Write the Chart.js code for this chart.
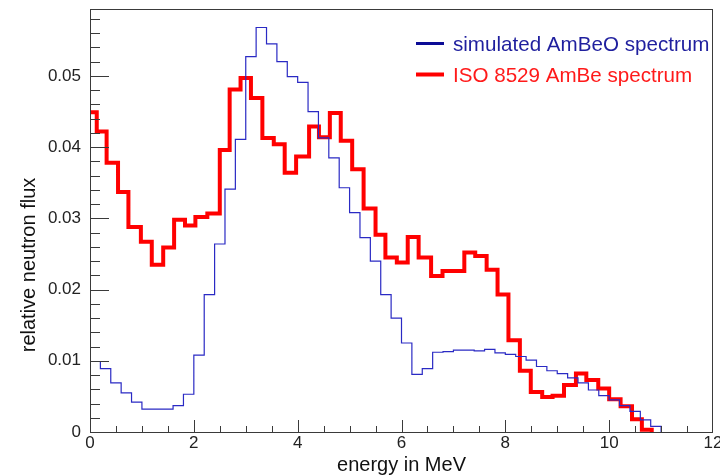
<!DOCTYPE html>
<html>
<head>
<meta charset="utf-8">
<title>AmBe neutron spectrum</title>
<script src="https://cdn.jsdelivr.net/npm/chart.js@4.4.0/dist/chart.umd.min.js"></script>
<style>
  html, body { margin: 0; padding: 0; background: #fff; }
  canvas { display: block; }
</style>
</head>
<body>
<canvas id="spectrumChart" width="720" height="476"></canvas>
<script>
// Simulated AmBeO spectrum: bin edges (MeV) and relative flux per bin
const simEdges = [0, 0.2, 0.4, 0.6, 0.8, 1.0, 1.2, 1.4, 1.6, 1.8, 2.0, 2.2, 2.4, 2.6, 2.8, 3.0,
  3.2, 3.4, 3.6, 3.8, 4.0, 4.2, 4.4, 4.6, 4.8, 5.0, 5.2, 5.4, 5.6, 5.8, 6.0, 6.2, 6.4, 6.6,
  6.8, 7.0, 7.2, 7.4, 7.6, 7.8, 8.0, 8.2, 8.4, 8.6, 8.8, 9.0, 9.2, 9.4, 9.6, 9.8, 10.0, 10.2,
  10.4, 10.6, 10.8, 11.0];
const simValues = [0.0099, 0.0089, 0.0069, 0.0055, 0.0042, 0.0032, 0.0032, 0.0032, 0.0037, 0.0053,
  0.0108, 0.0193, 0.0264, 0.0341, 0.0411, 0.0527, 0.0568, 0.0545, 0.0520, 0.0499,
  0.0491, 0.0450, 0.0413, 0.0385, 0.0343, 0.0308, 0.0273, 0.0240, 0.0193, 0.0160,
  0.0125, 0.0081, 0.0089, 0.0112, 0.0113, 0.0115, 0.0115, 0.0114, 0.0116, 0.0111,
  0.0109, 0.0106, 0.0101, 0.0092, 0.0086, 0.0082, 0.0076, 0.0069, 0.0059, 0.0051,
  0.0045, 0.0037, 0.0029, 0.0017, 0.0008];

// ISO 8529 AmBe spectrum: bin edges (MeV) and relative flux per bin
const isoEdges = [0, 0.13, 0.32, 0.54, 0.74, 0.98, 1.19, 1.41, 1.62, 1.83, 2.03, 2.26, 2.5, 2.69,
  2.9, 3.1, 3.32, 3.54, 3.75, 3.97, 4.22, 4.41, 4.62, 4.83, 5.05, 5.27, 5.5, 5.69, 5.91, 6.12,
  6.33, 6.57, 6.79, 7.0, 7.21, 7.42, 7.64, 7.85, 8.06, 8.28, 8.49, 8.71, 8.91, 9.13, 9.36,
  9.56, 9.79, 10.0, 10.22, 10.44, 10.63, 10.82];
const isoValues = [0.0449, 0.0422, 0.0378, 0.0337, 0.0288, 0.0267, 0.0235, 0.0259, 0.0298, 0.0290,
  0.0302, 0.0307, 0.0396, 0.0481, 0.0497, 0.0469, 0.0413, 0.0404, 0.0364, 0.0387,
  0.0429, 0.0414, 0.0448, 0.0409, 0.0369, 0.0314, 0.0277, 0.0245, 0.0238, 0.0274,
  0.0245, 0.0219, 0.0226, 0.0226, 0.0252, 0.0247, 0.0228, 0.0193, 0.0129, 0.0086,
  0.0056, 0.0049, 0.0051, 0.0066, 0.0082, 0.0073, 0.0061, 0.0046, 0.0036, 0.0018, 0.0003];

// Axis ticks
const xTickValues = [0, 2, 4, 6, 8, 10, 12];
const yTickValues = [0, 0.01, 0.02, 0.03, 0.04, 0.05];
const yTickLabels = ['0', '0.01', '0.02', '0.03', '0.04', '0.05'];

const FONT = '"Liberation Sans", Arial, Helvetica, sans-serif';
Chart.defaults.font.family = FONT;

// Histogram -> step points (left edge of every bin, closing at the last edge)
function toSteps(edges, values) {
  const pts = values.map((v, i) => ({ x: edges[i], y: v }));
  pts.push({ x: edges[edges.length - 1], y: 0 });
  return pts;
}

// keep the plot box fixed: no extra room for overhanging tick labels
function fixBox(s, size) {
  if (s.isHorizontal()) s.height = size; else s.width = size;
  s.paddingTop = s.paddingBottom = s.paddingLeft = s.paddingRight = 0;
}

// Frame box plus ROOT-like ticks pointing into the plot
const frameTicks = {
  id: 'frameTicks',
  afterDatasetsDraw(chart) {
    const { ctx, chartArea: a, scales: { x, y } } = chart;
    ctx.save();
    ctx.strokeStyle = '#3a3a3a';
    ctx.lineWidth = 1;
    ctx.strokeRect(a.left + 0.5, a.top + 0.5, a.right - a.left - 1, a.bottom - a.top);
    ctx.beginPath();
    for (let i = 1; i < 24; i++) {
      const px = Math.round(x.getPixelForValue(i * 0.5)) + 0.5;
      const len = i % 4 === 0 ? 12 : 6;
      ctx.moveTo(px, a.bottom);
      ctx.lineTo(px, a.bottom - len);
    }
    for (let i = 1; i < 30; i++) {
      const py = Math.round(y.getPixelForValue(i * 0.002)) + 0.5;
      if (py < a.top) continue;
      const len = i % 5 === 0 ? 19 : 10;
      ctx.moveTo(a.left, py);
      ctx.lineTo(a.left + len, py);
    }
    ctx.stroke();
    ctx.restore();
  }
};

// Legend inside the plot (top right) and the axis titles
const labels = {
  id: 'labels',
  afterDraw(chart) {
    const { ctx, chartArea: a } = chart;
    ctx.save();
    const rows = [43.5, 74.5];
    chart.data.datasets.forEach((ds, i) => {
      ctx.strokeStyle = ds.legendColor;
      ctx.lineWidth = ds.legendWidth;
      ctx.beginPath();
      ctx.moveTo(416, rows[i]);
      ctx.lineTo(444, rows[i]);
      ctx.stroke();
      ctx.fillStyle = ds.textColor;
      ctx.font = '20.6px ' + FONT;
      ctx.textAlign = 'left';
      ctx.textBaseline = 'alphabetic';
      ctx.fillText(ds.label, 453, rows[i] + 7.5);
    });

    ctx.fillStyle = '#111';
    ctx.font = '20px ' + FONT;
    ctx.textAlign = 'center';
    ctx.textBaseline = 'alphabetic';
    ctx.fillText('energy in MeV', (a.left + a.right) / 2, 471);

    ctx.translate(35, 265);
    ctx.rotate(-Math.PI / 2);
    ctx.fillText('relative neutron flux', 0, 0);
    ctx.restore();
  }
};

function createSpectrumChart() {
  const ctx = document.getElementById('spectrumChart').getContext('2d');
  new Chart(ctx, {
    type: 'line',
    data: {
      datasets: [
        {
          label: 'simulated AmBeO spectrum',
          data: toSteps(simEdges, simValues),
          stepped: 'before',
          borderColor: '#2a2ac4',
          borderWidth: 1.2,
          pointRadius: 0,
          fill: false,
          legendColor: '#0c0c96',
          legendWidth: 3,
          textColor: '#1f1f9e'
        },
        {
          label: 'ISO 8529 AmBe spectrum',
          data: toSteps(isoEdges, isoValues),
          stepped: 'before',
          borderColor: '#ff0000',
          borderWidth: 4,
          borderJoinStyle: 'miter',
          pointRadius: 0,
          fill: false,
          legendColor: '#ff0000',
          legendWidth: 4,
          textColor: '#ff1a1a'
        }
      ]
    },
    options: {
      responsive: false,
      animation: false,
      devicePixelRatio: 1,
      layout: { padding: { top: 9, right: 7, left: 0, bottom: 0 } },
      plugins: { legend: { display: false }, tooltip: { enabled: false } },
      scales: {
        x: {
          type: 'linear',
          min: 0,
          max: 12,
          grid: { display: false, drawTicks: false },
          border: { display: false },
          ticks: { padding: 1, color: '#222', font: { size: 17 }, maxRotation: 0, autoSkip: false },
          afterBuildTicks: s => { s.ticks = xTickValues.map(v => ({ value: v })); },
          afterFit: s => fixBox(s, 44)
        },
        y: {
          type: 'linear',
          min: 0,
          max: 0.0594,
          grid: { display: false, drawTicks: false },
          border: { display: false },
          ticks: {
            padding: 9,
            color: '#222',
            font: { size: 17 },
            callback: v => yTickLabels[yTickValues.indexOf(v)]
          },
          afterBuildTicks: s => { s.ticks = yTickValues.map(v => ({ value: v })); },
          afterFit: s => fixBox(s, 90)
        }
      }
    },
    plugins: [frameTicks, labels]
  });
}

document.addEventListener('DOMContentLoaded', function() {
  createSpectrumChart();
});
</script>
</body>
</html>
